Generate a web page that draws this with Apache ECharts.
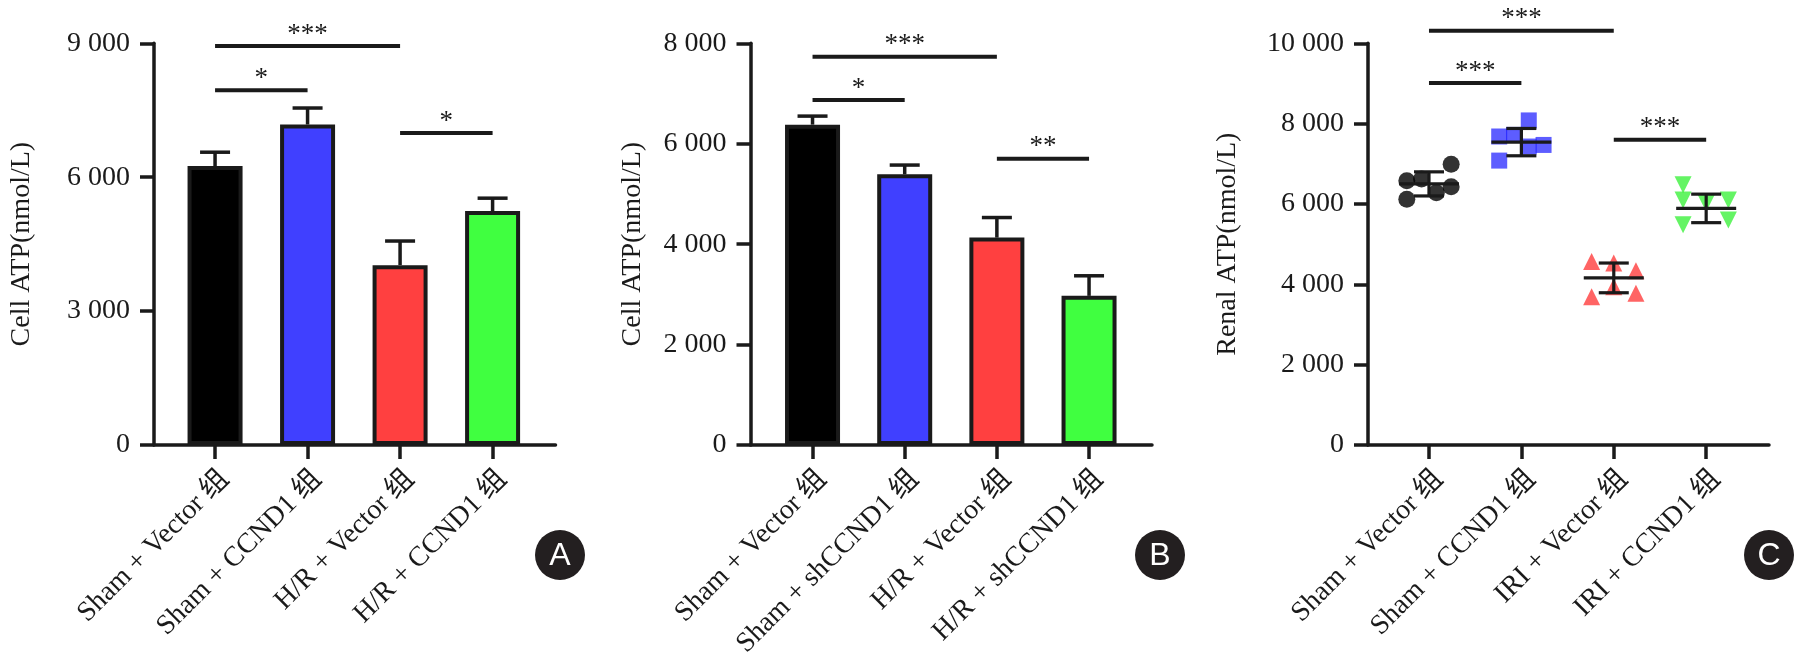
<!DOCTYPE html>
<html>
<head>
<meta charset="utf-8">
<script src="https://cdn.jsdelivr.net/npm/echarts@6/dist/echarts.min.js"></script>
<style>
html,body{margin:0;padding:0;background:#fff;}
#c{width:1797px;height:662px;}
</style>
</head>
<body>
<div id="c"></div>
<script>
// ---------- data ----------
const categoriesA = ['Sham + Vector 组', 'Sham + CCND1 组', 'H/R + Vector 组', 'H/R + CCND1 组'];
const categoriesB = ['Sham + Vector 组', 'Sham + shCCND1 组', 'H/R + Vector 组', 'H/R + shCCND1 组'];
const categoriesC = ['Sham + Vector 组', 'Sham + CCND1 组', 'IRI + Vector 组', 'IRI + CCND1 组'];

const meanA = [6250, 7180, 4030, 5240];
const errA  = [310, 370, 540, 290];
const meanB = [6380, 5390, 4130, 2970];
const errB  = [170, 185, 400, 400];

const cShamVector   = [6580, 6120, 6620, 6280, 6990, 6430];
const cShamCCND1    = [7680, 7080, 7720, 8080, 7430, 7470];
const cIRIVector    = [4570, 3690, 4530, 3940, 4340, 3780];
const cIRICCND1     = [6480, 6100, 5480, 6020, 6100, 5600];
const jitterShamVector = [-0.24, -0.24, -0.08, 0.08, 0.24, 0.24];
const jitterShamCCND1  = [-0.24, -0.24, -0.08, 0.08, 0.08, 0.24];
const jitterIRIVector  = [-0.24, -0.24, 0, 0, 0.24, 0.24];
const jitterIRICCND1   = [-0.25, -0.25, -0.25, 0, 0.24, 0.24];
const meanC = [6500, 7540, 4160, 5890];
const sdC   = [300, 340, 370, 355];

const ticksA = [0, 3000, 6000, 9000];
const ticksB = [0, 2000, 4000, 6000, 8000];
const ticksC = [0, 2000, 4000, 6000, 8000, 10000];

// significance brackets: [from, to, y, label]
const sigA = [[0, 2, 8940, '***'], [0, 1, 7950, '*'], [2, 3, 6990, '*']];
const sigB = [[0, 2, 7730, '***'], [0, 1, 6870, '*'], [2, 3, 5700, '**']];
const sigC = [[0, 2, 10310, '***'], [0, 1, 9010, '***'], [2, 3, 7600, '***']];

const panelLetters = ['A', 'B', 'C'];

// ---------- style ----------
const INK = '#1a1a1a';
const SERIF = '"Liberation Serif", "Times New Roman", "Noto Sans CJK SC", serif';
const barColors = ['#000000', '#4040ff', '#ff4040', '#40ff40'];
const catIdx = [0, 1, 2, 3];

function fmt(v) { return String(v).replace(/\B(?=(\d{3})+$)/g, ' '); }

const grids = [
  { left: 154, top: 43.3, width: 401.5, height: 401.7, outerBoundsMode: 'none' },
  { left: 750.5, top: 43.3, width: 401.5, height: 401.7, outerBoundsMode: 'none' },
  { left: 1368, top: 43.3, width: 401, height: 401.7, outerBoundsMode: 'none' }
];
const xRanges = [[-0.66, 3.68], [-0.673, 3.683], [-0.66, 3.68]];
const cats = [categoriesA, categoriesB, categoriesC];
const yTicks = [ticksA, ticksB, ticksC];

const xAxes = xRanges.map((r, k) => ({
  type: 'value', gridIndex: k, min: r[0], max: r[1],
  axisLine: { onZero: false, lineStyle: { color: INK, width: 3.5 } },
  axisTick: { length: 14, lineStyle: { color: INK, width: 3.5 }, customValues: catIdx },
  splitLine: { show: false },
  axisLabel: {
    customValues: catIdx,
    formatter: v => cats[k][Math.round(v)],
    rotate: 45, align: 'right', verticalAlign: 'top', margin: 20,
    color: INK, fontFamily: SERIF, fontSize: 28
  }
}));

const yNames = ['Cell ATP(nmol/L)', 'Cell ATP(nmol/L)', 'Renal ATP(nmol/L)'];
const yGap = [118, 104, 126];
const yAxes = [0, 1, 2].map(k => ({
  type: 'value', gridIndex: k, min: 0, max: yTicks[k][yTicks[k].length - 1],
  interval: yTicks[k][1] - yTicks[k][0],
  name: yNames[k], nameLocation: 'middle', nameGap: yGap[k], nameRotate: 90,
  nameTextStyle: { color: INK, fontFamily: SERIF, fontSize: 28 },
  axisLine: { show: true, onZero: false, lineStyle: { color: INK, width: 3.5 } },
  axisTick: { show: true, length: 14, lineStyle: { color: INK, width: 3.5 } },
  splitLine: { show: false },
  axisLabel: { formatter: fmt, margin: 24, color: INK, fontFamily: SERIF, fontSize: 28 }
}));

function sigSeries(k, sig) {
  return {
    type: 'custom', xAxisIndex: k, yAxisIndex: k, z: 10, silent: true,
    data: sig.map(s => [s[0], s[2], s[1]]),
    renderItem: (params, api) => {
      const s = sig[params.dataIndex];
      const p1 = api.coord([s[0], s[2]]);
      const p2 = api.coord([s[1], s[2]]);
      return {
        type: 'group', children: [
          { type: 'line', shape: { x1: p1[0], y1: p1[1], x2: p2[0], y2: p2[1] },
            style: { stroke: INK, lineWidth: 4 } },
          { type: 'text', x: (p1[0] + p2[0]) / 2, y: p1[1] + 2,
            style: { text: s[3], fill: INK, font: '27px ' + SERIF, align: 'center', verticalAlign: 'bottom' } }
        ]
      };
    }
  };
}

function barErrSeries(k, means, errs) {
  return {
    type: 'custom', xAxisIndex: k, yAxisIndex: k, z: 3, silent: true,
    data: means.map((m, i) => [i, m + errs[i]]),
    renderItem: (params, api) => {
      const i = params.dataIndex;
      const base = api.coord([i, means[i]]);
      const top = api.coord([i, means[i] + errs[i]]);
      return {
        type: 'group', children: [
          { type: 'line', shape: { x1: base[0], y1: base[1], x2: top[0], y2: top[1] }, style: { stroke: INK, lineWidth: 3.5 } },
          { type: 'line', shape: { x1: top[0] - 15, y1: top[1], x2: top[0] + 15, y2: top[1] }, style: { stroke: INK, lineWidth: 3.5 } }
        ]
      };
    }
  };
}

function barSeries(k, means) {
  return {
    type: 'bar', xAxisIndex: k, yAxisIndex: k, barWidth: 55, z: 4, silent: true,
    data: means.map((m, i) => ({ value: [i, m], itemStyle: { color: barColors[i] } })),
    itemStyle: { borderColor: INK, borderWidth: 4 }
  };
}

const groupsC = [
  { vals: cShamVector, jit: jitterShamVector, symbol: 'circle', size: 17, color: '#000000', rot: 0 },
  { vals: cShamCCND1, jit: jitterShamCCND1, symbol: 'rect', size: 16, color: 'rgba(30,30,255,0.9)', rot: 0 },
  { vals: cIRIVector, jit: jitterIRIVector, symbol: 'triangle', size: 17, color: 'rgba(255,45,45,0.92)', rot: 0 },
  { vals: cIRICCND1, jit: jitterIRICCND1, symbol: 'triangle', size: 17, color: 'rgba(45,240,45,0.92)', rot: 180 }
];
const scatterC = groupsC.map((g, i) => ({
  type: 'scatter', xAxisIndex: 2, yAxisIndex: 2, z: 4, silent: true,
  symbol: g.symbol, symbolSize: g.size, symbolRotate: g.rot,
  itemStyle: { color: g.color },
  data: g.vals.map((v, j) => [i + g.jit[j], v])
}));

const meanSdC = {
  type: 'custom', xAxisIndex: 2, yAxisIndex: 2, z: 6, silent: true,
  data: meanC.map((m, i) => [i, m]),
  renderItem: (params, api) => {
    const i = params.dataIndex;
    const mid = api.coord([i, meanC[i]]);
    const lo = api.coord([i, meanC[i] - sdC[i]]);
    const hi = api.coord([i, meanC[i] + sdC[i]]);
    const st = { stroke: INK, lineWidth: 3.2 };
    return {
      type: 'group', children: [
        { type: 'line', shape: { x1: mid[0] - 30, y1: mid[1], x2: mid[0] + 30, y2: mid[1] }, style: st },
        { type: 'line', shape: { x1: lo[0], y1: lo[1], x2: hi[0], y2: hi[1] }, style: st },
        { type: 'line', shape: { x1: hi[0] - 15, y1: hi[1], x2: hi[0] + 15, y2: hi[1] }, style: st },
        { type: 'line', shape: { x1: lo[0] - 15, y1: lo[1], x2: lo[0] + 15, y2: lo[1] }, style: st }
      ]
    };
  }
};

const letterPos = [[560, 555], [1160, 555], [1769, 555]];
const graphics = [];
panelLetters.forEach((L, k) => {
  graphics.push({ type: 'circle', shape: { cx: letterPos[k][0], cy: letterPos[k][1], r: 25 }, style: { fill: '#231f20' }, z: 20 });
  graphics.push({ type: 'text', x: letterPos[k][0], y: letterPos[k][1] + 1,
    style: { text: L, fill: '#fff', font: '32px "Liberation Sans", Arial, sans-serif', align: 'center', verticalAlign: 'middle' }, z: 21 });
});

const chart = echarts.init(document.getElementById('c'), null, { renderer: 'canvas' });
chart.setOption({
  backgroundColor: '#ffffff',
  animation: false,
  grid: grids,
  xAxis: xAxes,
  yAxis: yAxes,
  graphic: graphics,
  series: [
    barErrSeries(0, meanA, errA), barSeries(0, meanA), sigSeries(0, sigA),
    barErrSeries(1, meanB, errB), barSeries(1, meanB), sigSeries(1, sigB),
    ...scatterC, meanSdC, sigSeries(2, sigC)
  ]
});
</script>
</body>
</html>
